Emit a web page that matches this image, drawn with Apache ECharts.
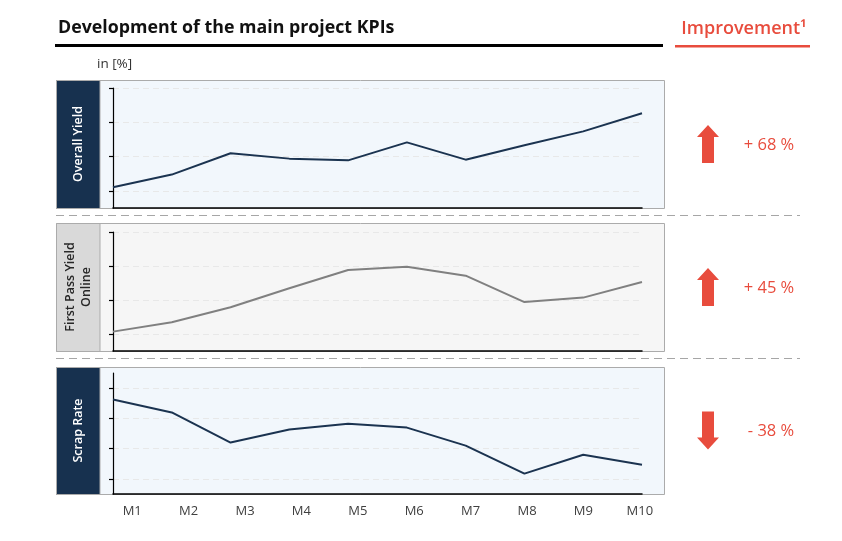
<!DOCTYPE html>
<html>
<head>
<meta charset="utf-8">
<script src="https://cdn.jsdelivr.net/npm/echarts@6/dist/echarts.min.js"></script>
<style>
html,body{margin:0;padding:0;background:#fff;}
#chart{width:842px;height:541px;}
</style>
</head>
<body>
<div id="chart"></div>
<script>
// ---- data ----
var categories = ['M1','M2','M3','M4','M5','M6','M7','M8','M9','M10'];
var overallYield   = [1.21, 1.95, 3.19, 2.88, 2.78, 3.83, 2.82, 3.66, 4.47, 5.53];
var firstPassYield = [1.14, 1.69, 2.57, 3.69, 4.76, 4.96, 4.43, 2.88, 3.14, 4.06];
var scrapRate      = [6.25, 5.39, 3.40, 4.26, 4.64, 4.39, 3.20, 1.35, 2.60, 1.94];
var tickValues = [1, 3, 5, 7];
var panelNames = ['Overall Yield', 'First Pass Yield\nOnline', 'Scrap Rate'];
var improvements = ['+ 68 %', '+ 45 %', '- 38 %'];
var titleText = 'Development of the main project KPIs';
var improvementTitle = 'Improvement\u00B9';
var unitText = 'in [%]';

var NAVY = '#17314F';
var RED = '#E84C3D';

var chart = echarts.init(document.getElementById('chart'));

var panels = [
  {boxTop: 80, boxBottom: 208, gridTop: 88, max: 7, bg: '#F2F7FC', labelBg: NAVY, labelColor: '#FFFFFF', lineColor: '#1B3350', data: overallYield, up: true},
  {boxTop: 223, boxBottom: 351, gridTop: 232, max: 7, bg: '#F6F6F6', labelBg: '#D9D9D9', labelColor: '#262626', lineColor: '#808080', data: firstPassYield, up: true},
  {boxTop: 367, boxBottom: 494, gridTop: 373, max: 8, bg: '#F2F7FC', labelBg: NAVY, labelColor: '#FFFFFF', lineColor: '#1B3350', data: scrapRate, up: false}
];

var grids = [], xAxes = [], yAxes = [], series = [], graphics = [];

panels.forEach(function (p, i) {
  grids.push({left: 113, right: 200, top: p.gridTop, height: p.boxBottom - p.gridTop});
  xAxes.push({
    type: 'category', gridIndex: i, data: categories, boundaryGap: false,
    axisLine: {lineStyle: {color: '#000', width: 1.5}},
    axisTick: {show: false}, axisLabel: {show: false}, splitLine: {show: false}
  });
  yAxes.push({
    type: 'value', gridIndex: i, min: 0, max: p.max,
    axisLine: {show: true, lineStyle: {color: '#000', width: 1.2}},
    axisTick: {show: true, length: 4, customValues: tickValues, lineStyle: {color: '#000', width: 1.2}},
    axisLabel: {show: false},
    splitLine: {show: true, lineStyle: {color: '#E8E8E8', type: [6, 4], width: 1}}
  });
  series.push({
    type: 'line', xAxisIndex: i, yAxisIndex: i, data: p.data,
    symbol: 'none', lineStyle: {color: p.lineColor, width: 2}, silent: true
  });
  // panel background
  graphics.push({type: 'rect', z: -10, shape: {x: 56.5, y: p.boxTop + 0.5, width: 608, height: p.boxBottom - p.boxTop},
    style: {fill: p.bg, stroke: '#ABABAB', lineWidth: 1}});
  graphics.push({type: 'rect', z: -9, shape: {x: 56.5, y: p.boxTop + 0.5, width: 43.5, height: p.boxBottom - p.boxTop},
    style: {fill: p.labelBg, stroke: '#ABABAB', lineWidth: 1}});
  var cy = (p.boxTop + p.boxBottom) / 2;
  graphics.push({type: 'text', z: 5, x: 78, y: cy, rotation: Math.PI / 2,
    style: {text: panelNames[i], fill: p.labelColor, font: '600 12.5px "Open Sans", sans-serif',
      align: 'center', verticalAlign: 'middle', lineHeight: 16}});
  // arrows
  var ax = 708, top, pts;
  if (p.up) {
    top = cy - 19;
    pts = [[ax, top], [ax + 11, top + 12], [ax + 6, top + 12], [ax + 6, top + 38], [ax - 6, top + 38], [ax - 6, top + 12], [ax - 11, top + 12]];
  } else {
    top = cy - 19;
    var bot = top + 38;
    pts = [[ax, bot], [ax + 11, bot - 12], [ax + 6, bot - 12], [ax + 6, top], [ax - 6, top], [ax - 6, bot - 12], [ax - 11, bot - 12]];
  }
  graphics.push({type: 'polygon', z: 5, shape: {points: pts}, style: {fill: RED}});
  graphics.push({type: 'text', z: 5, x: p.up ? 769 : 771, y: cy + 1,
    style: {text: improvements[i], fill: RED, font: '16.5px "Open Sans", sans-serif', align: 'center', verticalAlign: 'middle'}});
});

// label-only axis for months (band positioning as in reference)
grids.push({left: 104, right: 174, top: 373, height: 121});
xAxes.push({
  type: 'category', gridIndex: 3, data: categories, boundaryGap: true,
  axisLine: {show: false}, axisTick: {show: false},
  axisLabel: {show: true, color: '#404040', fontSize: 13, fontFamily: '"Open Sans", sans-serif', margin: 11}
});
yAxes.push({type: 'value', gridIndex: 3, show: false, min: 0, max: 8});

// separators
[215, 358].forEach(function (y) {
  graphics.push({type: 'line', z: 1, shape: {x1: 56, y1: y + 0.5, x2: 800, y2: y + 0.5},
    style: {stroke: '#A6A6A6', lineWidth: 1, lineDash: [8, 5]}});
});

// titles
graphics.push({type: 'text', x: 58, y: 28, style: {text: titleText, fill: '#111', font: 'bold 17.8px "Open Sans", sans-serif', verticalAlign: 'middle'}});
graphics.push({type: 'rect', shape: {x: 55, y: 44, width: 608, height: 3}, style: {fill: '#000'}});
graphics.push({type: 'text', x: 744, y: 29, style: {text: improvementTitle, fill: RED, font: '600 18px "Open Sans", sans-serif', align: 'center', verticalAlign: 'middle'}});
graphics.push({type: 'rect', shape: {x: 675, y: 45, width: 135, height: 2.5}, style: {fill: RED}});
graphics.push({type: 'text', x: 97, y: 64, style: {text: unitText, fill: '#333', font: '13.5px "Open Sans", sans-serif', verticalAlign: 'middle'}});

chart.setOption({
  animation: false,
  grid: grids,
  xAxis: xAxes,
  yAxis: yAxes,
  series: series,
  graphic: {elements: graphics}
});
</script>
</body>
</html>
